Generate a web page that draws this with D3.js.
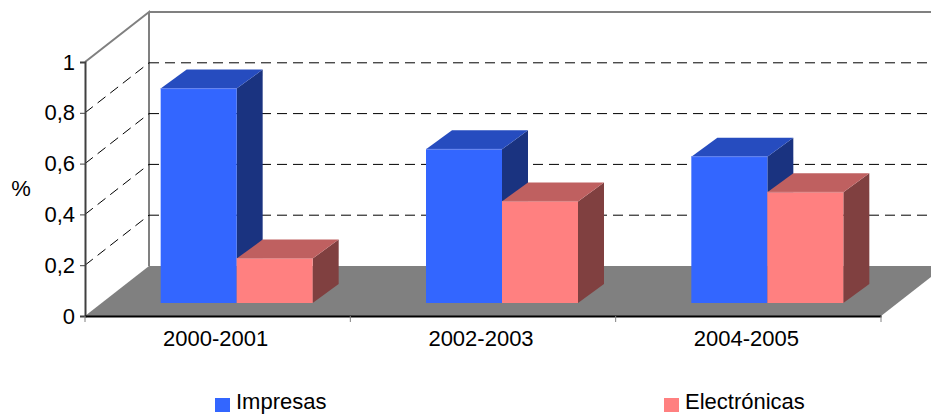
<!DOCTYPE html>
<html>
<head>
<meta charset="utf-8">
<script src="https://cdn.jsdelivr.net/npm/d3@7"></script>
<style>
  html, body { margin: 0; padding: 0; background: #fff; overflow: hidden; }
  text { font-family: "Liberation Sans", Arial, sans-serif; fill: #000; }
</style>
</head>
<body>
<svg width="931" height="414"></svg>
<script>
const periods = ['2000-2001', '2002-2003', '2004-2005'];
const impresas = [0.844, 0.605, 0.576];
const electronicas = [0.175, 0.40, 0.436];
const yTicks = [0, 0.2, 0.4, 0.6, 0.8, 1];

const svg = d3.select('svg');
const fontSize = 22;

// the 3D box: front plane is what the axes use, back wall is shifted by depth
const depth = {x: 64, y: -50};
const barDepth = {x: 26, y: -19};
// bars stand a bit inside the floor, not on its front edge
const barInset = {x: 19, y: -13};
const barWidth = 76;

const x = d3.scaleBand().domain(periods).range([85, 881]);
const y = d3.scaleLinear().domain([0, 1]).range([316, 62]);

// floor
svg.append('polygon')
  .attr('points', [
    [x.range()[0], y(0)], [x.range()[1], y(0)],
    [x.range()[1] + depth.x, y(0) + depth.y], [x.range()[0] + depth.x, y(0) + depth.y]
  ].join(' '))
  .attr('fill', '#808080');

// back wall edges
svg.append('path')
  .attr('d', `M85,${y(1)}L${85 + depth.x},${y(1) + depth.y}L${85 + depth.x},${y(0) + depth.y}`)
  .attr('fill', 'none')
  .attr('stroke', '#808080')
  .attr('stroke-width', 2);
svg.append('line')
  .attr('x1', 85 + depth.x).attr('x2', 945)
  .attr('y1', y(1) + depth.y).attr('y2', y(1) + depth.y)
  .attr('stroke', '#808080')
  .attr('stroke-width', 2);

// gridlines, side wall and back wall
const gridTicks = yTicks.filter((d) => d > 0 && d < 1);
svg.selectAll('.grid-side')
  .data(gridTicks)
  .enter()
  .append('line')
  .attr('class', 'grid-side')
  .attr('x1', 85).attr('y1', (d) => y(d))
  .attr('x2', 85 + depth.x).attr('y2', (d) => y(d) + depth.y)
  .attr('stroke', '#000')
  .attr('stroke-dasharray', '10 6');
svg.selectAll('.grid-back')
  .data(gridTicks)
  .enter()
  .append('line')
  .attr('class', 'grid-back')
  .attr('x1', 85 + depth.x).attr('y1', (d) => y(d) + depth.y)
  .attr('x2', 945).attr('y2', (d) => y(d) + depth.y)
  .attr('stroke', '#000')
  .attr('stroke-dasharray', '10 6');

function drawBars(values, offset, colors) {
  const bars = svg.append('g')
    .selectAll('g')
    .data(values)
    .enter()
    .append('g');

  const left = (d, i) => x(periods[i]) + x.bandwidth() / 2 + barInset.x + offset;
  const bottom = y(0) + barInset.y;
  const top = (d) => y(d) + barInset.y;

  // side face
  bars.append('polygon')
    .attr('points', (d, i) => {
      const r = left(d, i) + barWidth;
      return [[r, bottom], [r, top(d)], [r + barDepth.x, top(d) + barDepth.y], [r + barDepth.x, bottom + barDepth.y]].join(' ');
    })
    .attr('fill', colors.side);

  // top face
  bars.append('polygon')
    .attr('points', (d, i) => {
      const l = left(d, i);
      return [[l, top(d)], [l + barWidth, top(d)], [l + barWidth + barDepth.x, top(d) + barDepth.y], [l + barDepth.x, top(d) + barDepth.y]].join(' ');
    })
    .attr('fill', colors.top);

  // front face
  bars.append('rect')
    .attr('x', left)
    .attr('y', top)
    .attr('width', barWidth)
    .attr('height', (d) => bottom - top(d))
    .attr('fill', colors.front);

  // thin lighter edge where the top meets the front
  bars.append('line')
    .attr('x1', left)
    .attr('x2', (d, i) => left(d, i) + barWidth)
    .attr('y1', top)
    .attr('y2', top)
    .attr('stroke', colors.edge);
}

drawBars(impresas, -barWidth, {front: '#3366ff', top: '#264cbf', side: '#1a3380', edge: '#6685f0'});
drawBars(electronicas, 0, {front: '#ff8080', top: '#bf6060', side: '#804040', edge: '#e08a8a'});

// y axis
const yAxis = svg.append('g')
  .attr('transform', 'translate(85,0)')
  .call(d3.axisLeft(y)
    .tickValues(yTicks)
    .tickSize(5)
    .tickPadding(5)
    .tickFormat((d) => String(d).replace('.', ',')));
yAxis.select('.domain').attr('stroke', '#404040').attr('stroke-width', 2);
yAxis.selectAll('.tick line').attr('stroke', '#404040');
yAxis.selectAll('text').attr('font-size', fontSize).attr('font-family', null);

// x axis: labels sit in the band centre, ticks on the band edges
const xAxis = svg.append('g')
  .attr('transform', `translate(0,${y(0)})`)
  .call(d3.axisBottom(x).tickSize(0).tickPadding(14));
xAxis.select('.domain').attr('stroke', '#000').attr('stroke-width', 2);
xAxis.selectAll('text').attr('font-size', fontSize).attr('font-family', null).attr('dx', -2);
xAxis.selectAll('.edge')
  .data([0, 1, 2, 3])
  .enter()
  .append('line')
  .attr('class', 'edge')
  .attr('x1', (d) => x.range()[0] + d * x.step())
  .attr('x2', (d) => x.range()[0] + d * x.step())
  .attr('y1', 0).attr('y2', 6)
  .attr('stroke', '#808080');

svg.append('text')
  .attr('x', 21).attr('y', 196)
  .attr('text-anchor', 'middle')
  .attr('font-size', fontSize)
  .text('%');

// legend
const legend = svg.selectAll('.legend')
  .data([
    {name: 'Impresas', color: '#3366ff', at: 215},
    {name: 'Electrónicas', color: '#ff8080', at: 664}
  ])
  .enter()
  .append('g')
  .attr('class', 'legend')
  .attr('transform', (d) => `translate(${d.at},0)`);
legend.append('rect')
  .attr('y', 398).attr('width', 15).attr('height', 14)
  .attr('fill', (d) => d.color);
legend.append('text')
  .attr('x', 21).attr('y', 409)
  .attr('font-size', fontSize)
  .text((d) => d.name);
</script>
</body>
</html>
